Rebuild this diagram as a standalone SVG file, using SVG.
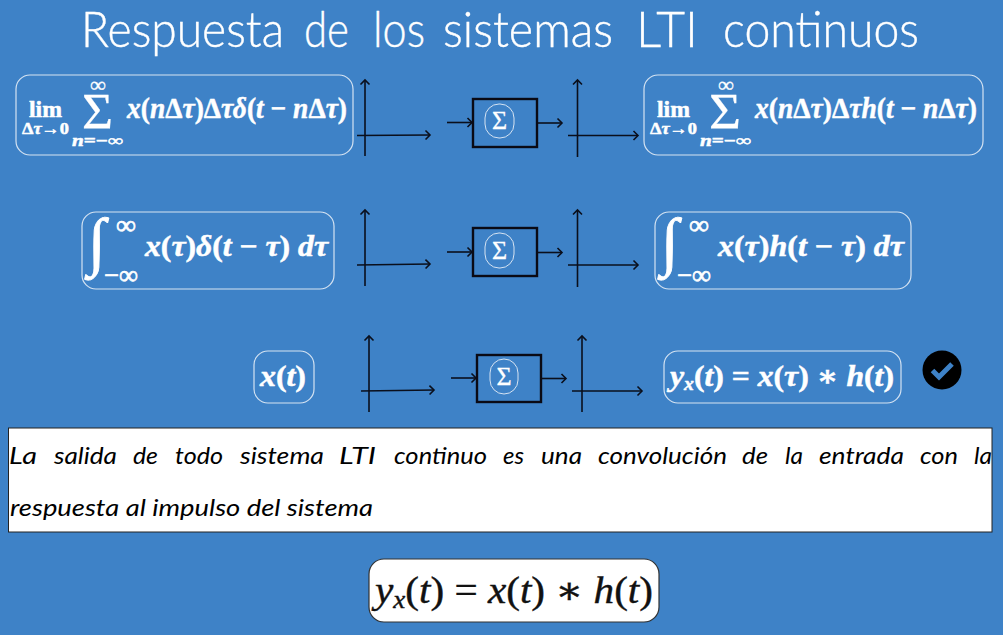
<svg xmlns="http://www.w3.org/2000/svg" width="1003" height="635" viewBox="0 0 1003 635">
<style>
.title{font-family:"Lato","Open Sans",sans-serif;font-weight:300;font-size:50px;fill:#fff;stroke:#fff;stroke-width:.4}
.body{font-family:"Lato","Open Sans",sans-serif;font-style:italic;font-size:24px;fill:#000}
.m{font-family:"Liberation Serif","DejaVu Serif",serif;fill:#fff;stroke:#fff;stroke-width:.5;font-weight:bold}
.i{font-style:italic}
.big{font-size:29px}
.sm{font-size:16px}
.sym{font-weight:normal;stroke-width:.3}
.inf{font-weight:normal;stroke-width:.7;font-size:27px}
.box{fill:none;stroke:#d5e3f2;stroke-width:1.2}
.pill{fill:none;stroke:#d5e3f2;stroke-width:1}
.blk{fill:none;stroke:#0a0a14;stroke-width:2.4}
.ax{fill:none;stroke:#0a0f1c;stroke-width:1.6;marker-end:url(#a)}
.tot{font-family:"Liberation Serif","DejaVu Serif",serif;font-size:38px;fill:#111;stroke:#111;stroke-width:.4}
</style>
<defs><marker id="a" markerUnits="userSpaceOnUse" markerWidth="12" markerHeight="12" refX="7" refY="6" orient="auto"><path d="M2.5 1.5L7 6L2.5 10.500" fill="none" stroke="#0a0f1c" stroke-width="1.600"/></marker></defs>
<rect width="1003" height="635" fill="#3e82c7"/>
<g id="title" class="title">
<text x="81" y="47" textLength="203" lengthAdjust="spacingAndGlyphs">Respuesta</text>
<text x="304" y="47" textLength="45" lengthAdjust="spacingAndGlyphs">de</text>
<text x="373" y="47" textLength="52" lengthAdjust="spacingAndGlyphs">los</text>
<text x="443" y="47" textLength="170" lengthAdjust="spacingAndGlyphs">sistemas</text>
<text x="636" y="47" textLength="62" lengthAdjust="spacingAndGlyphs">LTI</text>
<text x="723" y="47" textLength="196" lengthAdjust="spacingAndGlyphs">continuos</text>
</g>
<g id="connectors">
<path class="ax" d="M365 156V80"/><path class="ax" d="M357 135.500L430 135"/>
<path class="ax" d="M447 122.500H472"/><path class="ax" d="M537 123H562"/>
<path class="ax" d="M577.500 157V80"/><path class="ax" d="M568 135.500H638"/>
<path class="ax" d="M365 286V210"/><path class="ax" d="M357 265L430 264"/>
<path class="ax" d="M447 252H472"/><path class="ax" d="M537 252.500H562"/>
<path class="ax" d="M577.500 287V210"/><path class="ax" d="M568 265H638"/>
<path class="ax" d="M369 412V336"/><path class="ax" d="M361 391L434 390"/>
<path class="ax" d="M451 378H476"/><path class="ax" d="M541 378.500H566"/>
<path class="ax" d="M582 412V336"/><path class="ax" d="M572 391H642"/>
</g>
<g id="sum-in-1"><rect class="box" x="16" y="75" width="337" height="80" rx="14"/>
<text class="m" style="font-size:23px" x="29" y="117" textLength="33" lengthAdjust="spacingAndGlyphs">lim</text>
<text class="m sm" x="22" y="134" textLength="47" lengthAdjust="spacingAndGlyphs">Δ<tspan class="i">τ</tspan>→0</text>
<text class="m sym" style="font-size:50px" x="82" y="128" textLength="31" lengthAdjust="spacingAndGlyphs">Σ</text>
<text class="m sym" style="font-size:22px" x="90" y="92" textLength="16" lengthAdjust="spacingAndGlyphs">∞</text>
<text class="m sm" x="72" y="146" textLength="51" lengthAdjust="spacingAndGlyphs"><tspan class="i">n</tspan>=−∞</text>
<text class="m big" x="127" y="118" textLength="220" lengthAdjust="spacingAndGlyphs"><tspan class="i">x</tspan>(<tspan class="i">n</tspan>Δ<tspan class="i">τ</tspan>)Δ<tspan class="i">τδ</tspan>(<tspan class="i">t</tspan> − <tspan class="i">n</tspan>Δ<tspan class="i">τ</tspan>)</text></g>
<g id="sum-out-1"><rect class="box" x="644" y="75" width="339" height="80" rx="14"/>
<text class="m" style="font-size:23px" x="657" y="117" textLength="33" lengthAdjust="spacingAndGlyphs">lim</text>
<text class="m sm" x="650" y="134" textLength="47" lengthAdjust="spacingAndGlyphs">Δ<tspan class="i">τ</tspan>→0</text>
<text class="m sym" style="font-size:50px" x="709" y="128" textLength="32" lengthAdjust="spacingAndGlyphs">Σ</text>
<text class="m sym" style="font-size:22px" x="718" y="92" textLength="16" lengthAdjust="spacingAndGlyphs">∞</text>
<text class="m sm" x="700" y="146" textLength="51" lengthAdjust="spacingAndGlyphs"><tspan class="i">n</tspan>=−∞</text>
<text class="m big" x="755" y="118" textLength="222" lengthAdjust="spacingAndGlyphs"><tspan class="i">x</tspan>(<tspan class="i">n</tspan>Δ<tspan class="i">τ</tspan>)Δ<tspan class="i">τh</tspan>(<tspan class="i">t</tspan> − <tspan class="i">n</tspan>Δ<tspan class="i">τ</tspan>)</text></g>
<g id="int-in"><rect class="box" x="82" y="212" width="252" height="77" rx="14"/>
<text class="m i" style="font-size:64px;font-weight:normal;stroke-width:.9" x="88" y="263">∫</text>
<text class="m inf" x="116" y="234" textLength="20" lengthAdjust="spacingAndGlyphs">∞</text>
<text class="m inf" x="104" y="284" textLength="34" lengthAdjust="spacingAndGlyphs">−∞</text>
<text class="m big" x="145" y="256" textLength="183" lengthAdjust="spacingAndGlyphs"><tspan class="i">x</tspan>(<tspan class="i">τ</tspan>)<tspan class="i">δ</tspan>(<tspan class="i">t</tspan> − <tspan class="i">τ</tspan>) <tspan class="i">dτ</tspan></text></g>
<g id="int-out"><rect class="box" x="655" y="212" width="256" height="77" rx="14"/>
<text class="m i" style="font-size:64px;font-weight:normal;stroke-width:.9" x="661" y="263">∫</text>
<text class="m inf" x="689" y="234" textLength="20" lengthAdjust="spacingAndGlyphs">∞</text>
<text class="m inf" x="677" y="284" textLength="34" lengthAdjust="spacingAndGlyphs">−∞</text>
<text class="m big" x="718" y="256" textLength="186" lengthAdjust="spacingAndGlyphs"><tspan class="i">x</tspan>(<tspan class="i">τ</tspan>)<tspan class="i">h</tspan>(<tspan class="i">t</tspan> − <tspan class="i">τ</tspan>) <tspan class="i">dτ</tspan></text></g>
<g id="xt"><rect class="box" x="254" y="351" width="60" height="52" rx="14"/>
<text class="m big" x="260" y="386" textLength="46" lengthAdjust="spacingAndGlyphs"><tspan class="i">x</tspan>(<tspan class="i">t</tspan>)</text></g>
<g id="yxt"><rect class="box" x="664" y="351" width="237" height="52" rx="14"/>
<text class="m big" x="670" y="386" textLength="224" lengthAdjust="spacingAndGlyphs"><tspan class="i">y</tspan><tspan class="i" font-size="18" dy="4">x</tspan><tspan dy="-4">(</tspan><tspan class="i">t</tspan>) = <tspan class="i">x</tspan>(<tspan class="i">τ</tspan>) ∗ <tspan class="i">h</tspan>(<tspan class="i">t</tspan>)</text></g>
<g id="lti-1"><rect class="blk" x="473" y="99" width="64" height="48"/><rect class="pill" x="485" y="104" width="29" height="34" rx="14"/><text class="m sym" style="font-size:26px" x="499.500" y="129" text-anchor="middle">Σ</text></g>
<g id="lti-2"><rect class="blk" x="473" y="228" width="64" height="48"/><rect class="pill" x="485" y="233" width="29" height="35" rx="14"/><text class="m sym" style="font-size:26px" x="499.500" y="259" text-anchor="middle">Σ</text></g>
<g id="lti-3"><rect class="blk" x="477" y="355" width="64" height="47"/><rect class="pill" x="490" y="359" width="28" height="35" rx="14"/><text class="m sym" style="font-size:26px" x="504" y="385" text-anchor="middle">Σ</text></g>
<g id="check"><circle cx="942" cy="370" r="19.500" fill="#000"/><path d="M932.500 370.500L939 377L952 364" fill="none" stroke="#3e82c7" stroke-width="5"/></g>
<g id="statement"><rect x="8.500" y="428" width="983.500" height="104" fill="#fff" stroke="#222" stroke-width="1"/>
<g class="body">
<text x="9" y="464" textLength="28" lengthAdjust="spacingAndGlyphs">La</text>
<text x="54" y="464" textLength="63" lengthAdjust="spacingAndGlyphs">salida</text>
<text x="133" y="464" textLength="25" lengthAdjust="spacingAndGlyphs">de</text>
<text x="175" y="464" textLength="48" lengthAdjust="spacingAndGlyphs">todo</text>
<text x="240" y="464" textLength="84" lengthAdjust="spacingAndGlyphs">sistema</text>
<text x="339" y="464" textLength="37" lengthAdjust="spacingAndGlyphs" font-size="23">LTI</text>
<text x="394" y="464" textLength="93" lengthAdjust="spacingAndGlyphs">continuo</text>
<text x="503" y="464" textLength="21" lengthAdjust="spacingAndGlyphs">es</text>
<text x="541" y="464" textLength="41" lengthAdjust="spacingAndGlyphs">una</text>
<text x="598" y="464" textLength="129" lengthAdjust="spacingAndGlyphs">convolución</text>
<text x="742" y="464" textLength="26" lengthAdjust="spacingAndGlyphs">de</text>
<text x="785" y="464" textLength="18" lengthAdjust="spacingAndGlyphs">la</text>
<text x="819" y="464" textLength="85" lengthAdjust="spacingAndGlyphs">entrada</text>
<text x="920" y="464" textLength="38" lengthAdjust="spacingAndGlyphs">con</text>
<text x="974" y="464" textLength="18" lengthAdjust="spacingAndGlyphs">la</text>
<text x="10" y="516" textLength="363" lengthAdjust="spacingAndGlyphs">respuesta al impulso del sistema</text>
</g></g>
<g id="total"><rect x="369" y="559" width="290" height="63" rx="15" fill="#fff" stroke="#333" stroke-width="1.200"/>
<text class="tot" x="375" y="603" textLength="278" lengthAdjust="spacingAndGlyphs"><tspan font-style="italic">y</tspan><tspan font-style="italic" font-size="25" dy="5">x</tspan><tspan dy="-5">(</tspan><tspan font-style="italic">t</tspan>) = <tspan font-style="italic">x</tspan>(<tspan font-style="italic">t</tspan>) ∗ <tspan font-style="italic">h</tspan>(<tspan font-style="italic">t</tspan>)</text></g>
</svg>
